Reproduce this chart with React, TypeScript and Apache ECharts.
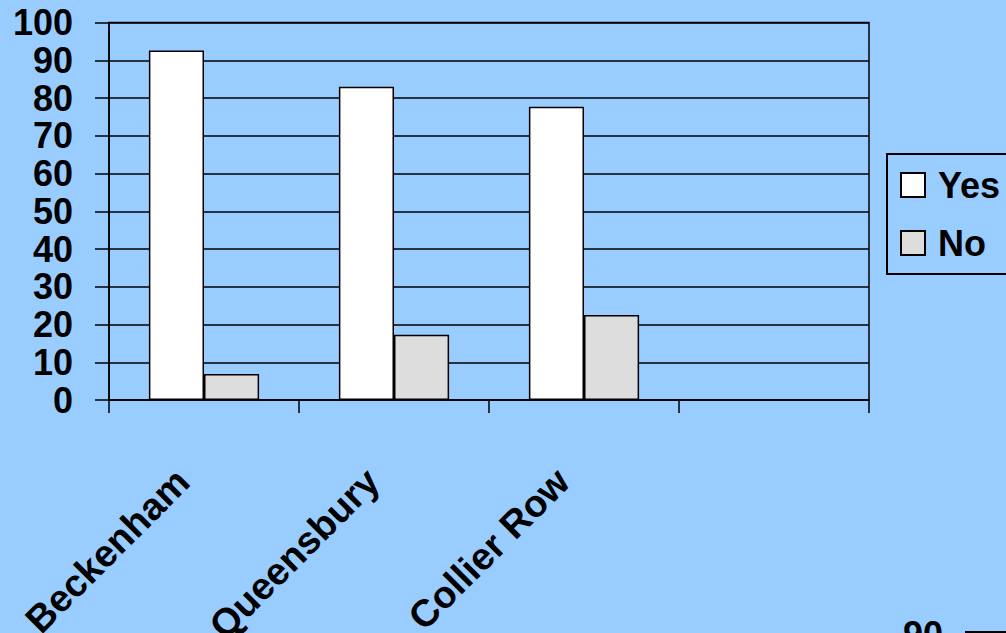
import React, { useEffect, useRef } from "react";
import * as echarts from "echarts";

const categories = ["Beckenham", "Queensbury", "Collier Row", ""];
const yesValues = [92.6, 83.0, 77.7, null];
const noValues = [6.9, 17.3, 22.5, null];
const seriesNames = ["Yes", "No"];
const yTicks = { min: 0, max: 100, interval: 10 };

const FONT = "'Liberation Sans', Arial, sans-serif";

export default function App() {
  const ref = useRef<HTMLDivElement>(null);
  useEffect(() => {
    if (!ref.current) return;
    const chart = echarts.init(ref.current, null, { renderer: "svg" });
    const border = { borderColor: "#000", borderWidth: 1.5 };
    chart.setOption({
      animation: false,
      backgroundColor: "#99CCFF",
      textStyle: { fontFamily: FONT },
      grid: {
        left: 109,
        right: 137,
        top: 22.5,
        bottom: 233,
        outerBoundsMode: "none",
        containLabel: false,
        show: true,
        borderColor: "#000",
        borderWidth: 1.5,
        backgroundColor: "transparent",
      },
      legend: {
        orient: "vertical",
        left: 887,
        top: 154,
        padding: [13, 13, 13, 13],
        itemWidth: 24,
        itemHeight: 24,
        itemGap: 22,
        icon: "rect",
        borderColor: "#000",
        borderWidth: 2,
        data: seriesNames,
        textStyle: {
          fontFamily: FONT,
          fontSize: 36,
          fontWeight: "bold",
          color: "#000",
          lineHeight: 36,
          padding: [0, 0, 0, 8],
        },
      },
      xAxis: {
        type: "category",
        data: categories,
        axisLine: { lineStyle: { color: "#000", width: 1.5 } },
        axisTick: { show: true, length: 13, interval: 0, lineStyle: { color: "#000", width: 1.5 } },
        axisLabel: {
          interval: 0,
          rotate: 45,
          margin: 54,
          padding: [0, 30, 0, 0],
          fontFamily: FONT,
          fontSize: 38,
          fontWeight: "bold",
          color: "#000",
        },
      },
      yAxis: {
        type: "value",
        min: yTicks.min,
        max: yTicks.max,
        interval: yTicks.interval,
        axisLine: { show: true, lineStyle: { color: "#000", width: 1.5 } },
        axisTick: { show: true, length: 14, lineStyle: { color: "#000", width: 1.5 } },
        splitLine: { show: true, lineStyle: { color: "#000", width: 1.5 } },
        axisLabel: {
          margin: 36,
          fontFamily: FONT,
          fontSize: 36,
          fontWeight: "bold",
          color: "#000",
        },
      },
      series: [
        {
          name: seriesNames[0],
          type: "bar",
          data: yesValues,
          barCategoryGap: "42%",
          barGap: "0%",
          itemStyle: { color: "#FFFFFF", ...border },
        },
        {
          name: seriesNames[1],
          type: "bar",
          data: noValues,
          barCategoryGap: "42%",
          barGap: "0%",
          itemStyle: { color: "#DDDDDD", ...border },
        },
      ],
      graphic: [
        {
          type: "text",
          left: 903,
          top: 616,
          style: { text: "90", fontFamily: FONT, fontSize: 36, fontWeight: "bold", fill: "#000" },
        },
        {
          type: "line",
          shape: { x1: 965, y1: 632, x2: 1006, y2: 632 },
          style: { stroke: "#000", lineWidth: 2 },
        },
      ],
    });
    return () => chart.dispose();
  }, []);
  return <div ref={ref} style={{ width: 1006, height: 633, position: "absolute", left: 0, top: 0 }} />;
}
